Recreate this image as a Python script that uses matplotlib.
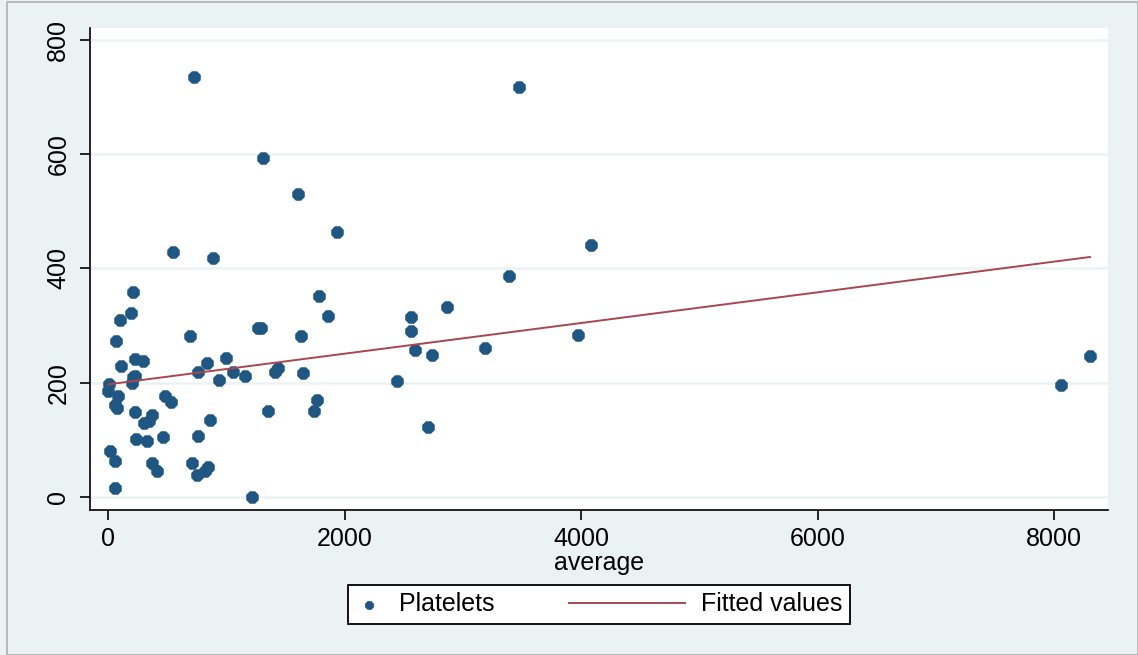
import numpy as np
import matplotlib.pyplot as plt
from matplotlib.patches import Rectangle
from matplotlib.legend_handler import HandlerLine2D

# data
average = [727, 3474, 1308, 1606, 1933, 4080, 547, 884, 3392, 212,
           1784, 194, 101, 1862, 2561, 2868, 1265, 1295, 2561, 65,
           693, 1634, 3975, 3187, 2595, 2741, 230, 296, 997, 836,
           108, 763, 1059, 1155, 1412, 1440, 1651, 935, 214, 200,
           230, 2443, 8, 3, 87, 478, 530, 60, 80, 225,
           8056, 8301, 1355, 1764, 1738, 372, 305, 350, 860, 2707,
           240, 327, 467, 763, 17, 62, 375, 411, 710, 845,
           750, 63, 1215, 820]
platelets = [735, 718, 594, 530, 463, 441, 428, 419, 386, 358,
             351, 322, 310, 317, 315, 332, 296, 296, 290, 273,
             281, 281, 283, 260, 258, 249, 241, 238, 243, 235,
             229, 219, 218, 211, 219, 225, 216, 204, 209, 200,
             212, 202, 197, 185, 176, 176, 166, 160, 155, 149,
             195, 246, 150, 169, 150, 143, 130, 132, 134, 122,
             101, 98, 104, 107, 81, 63, 60, 46, 60, 52,
             38, 15, 0, 45]

# fitted line, ends
fit_x = [3, 8301]
fit_y = [197, 420]

bg = '#eaf2f3'
navy = '#1f5782'
maroon = '#a8474f'
fs = 18


# legend line drawn longer, reaching left of its handle box
class LongLine(HandlerLine2D):
    def get_xdata(self, legend, xdescent, ydescent, width, height, fontsize):
        xd = np.array([-xdescent - 3.55 * fontsize, -xdescent + width])
        return xd, xd


plt.rcParams['font.family'] = ['Liberation Sans', 'DejaVu Sans']

fig = plt.figure(figsize=(11.38, 6.55), dpi=100, facecolor=bg)
fig.patches.append(Rectangle((0.006, 0.0), 0.994, 0.997, transform=fig.transFigure,
                             fill=False, edgecolor='#b0b0b0', lw=1.2))
ax = fig.add_axes([0.0791, 0.2214, 0.8945, 0.7359])
ax.set_facecolor('white')

ax.scatter(average, platelets, s=95, color=navy, marker='8', linewidths=0, zorder=3,
           label='Platelets')
fl, = ax.plot(fit_x, fit_y, color=maroon, lw=1.4, zorder=4, label='Fitted values')

ax.set_xlim(-152, 8453)
ax.set_ylim(-23, 821)
ax.set_xticks([0, 2000, 4000, 6000, 8000])
ax.set_yticks([0, 200, 400, 600, 800])
ax.grid(axis='y', color=bg, lw=1.8, zorder=0)
ax.set_axisbelow(True)

for s in ['top', 'right']:
    ax.spines[s].set_visible(False)
ax.spines['left'].set_linewidth(1.2)
ax.spines['bottom'].set_linewidth(1.2)
ax.tick_params(axis='both', direction='out', length=7.2, width=1.2, labelsize=fs, colors='black')
ax.tick_params(axis='x', pad=5)
ax.tick_params(axis='y', pad=7)
plt.setp(ax.get_yticklabels(), rotation=90, va='center')

ax.set_xlabel('average', fontsize=fs, labelpad=0)

leg = ax.legend(loc='upper center', bbox_to_anchor=(0.5, -0.1556), ncol=2, fontsize=fs,
                frameon=True, fancybox=False, edgecolor='black', borderpad=0.3,
                borderaxespad=0, columnspacing=6.5, handlelength=1.12,
                handletextpad=0.64, markerscale=0.7, framealpha=1,
                handler_map={fl: LongLine()})
leg.get_frame().set_linewidth(1.3)

fig.savefig('out.png', dpi=100, facecolor=bg)
